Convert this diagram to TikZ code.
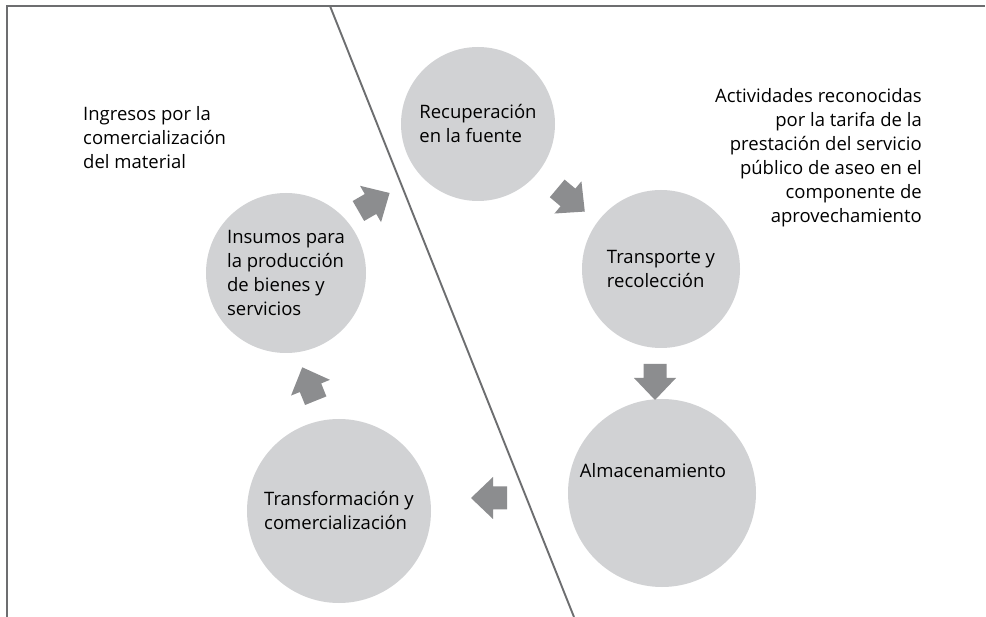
\documentclass[tikz,border=0pt]{standalone}
\usepackage{fontspec}
\setmainfont{Open Sans}
\definecolor{circgray}{HTML}{D1D2D4}
\definecolor{arrgray}{HTML}{8C8D8F}
\definecolor{linegray}{HTML}{6D6E70}
\begin{document}
\begin{tikzpicture}[x=1pt,y=-1pt,
  frameline/.style={draw=linegray,line width=1.9pt},
  circ/.style={circle,fill=circgray,draw=none,inner sep=0pt,align=left,
    font=\fontsize{18.5}{24}\selectfont,text=black},
  note/.style={inner sep=0pt,font=\fontsize{18.5}{24}\selectfont},
  blkarrow/.pic={\fill[arrgray] (-18,-11.5) -- (-4,-11.5) -- (-4,-21) -- (18,0)
     -- (-4,21) -- (-4,11.5) -- (-18,11.5) -- cycle;}]
\useasboundingbox (0,0) rectangle (986,617);
\fill[white] (0,0) rectangle (986,617);
% frame
\coordinate (fbl) at (7,617);
\coordinate (ftl) at (7,6);
\coordinate (ftr) at (985,6);
\draw[frameline] (fbl) -- (ftl) -- (ftr);
\coordinate (dtop) at (330,6);
\coordinate (dbot) at (574,617);
\draw[frameline] (dtop) -- (dbot);
% circles
\node[circ,minimum size=154pt] (rec) at (478,124) {Recuperación\\en la fuente};
\node[circ,minimum size=158pt] (tra) at (661,269) {Transporte y\\recolección};
\node[circ,minimum size=188pt] (alm) at (662,493) {};
\node[note] (almtext) at (653,471) {Almacenamiento};
\node[circ,minimum size=184pt] (tco) at (339,511) {Transformación y\\comercialización};
\node[circ,minimum size=160pt] (ins) at (286,273) {Insumos para\\la producción\\de bienes y\\servicios};
% arrows
\pic[rotate=30] at (374,202) {blkarrow};
\pic[rotate=-40] at (571,200) {blkarrow};
\pic[rotate=-90] at (655,382) {blkarrow};
\pic[rotate=180] at (489,498) {blkarrow};
\pic[rotate=112] at (309,384) {blkarrow};
% notes
\node[note,anchor=north west,align=left] (ingr) at (83,106)
  {Ingresos por la\\comercialización\\del material};
\node[note,anchor=north east,align=right] (acti) at (922,88)
  {Actividades reconocidas\\por la tarifa de la\\prestación del servicio\\público de aseo en el\\componente de\\aprovechamiento};
\end{tikzpicture}
\end{document}
